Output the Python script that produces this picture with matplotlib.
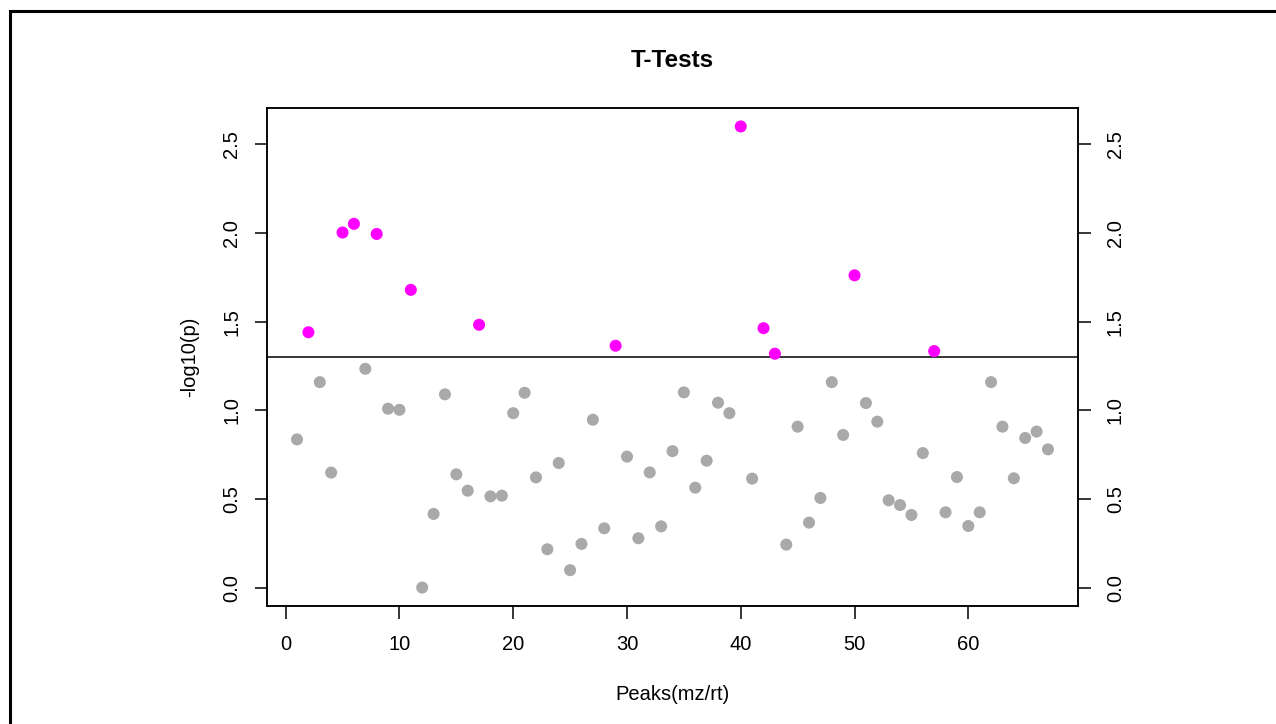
import matplotlib.pyplot as plt
from matplotlib.patches import Rectangle
import numpy as np

plt.rcParams["font.family"] = ["Liberation Sans", "DejaVu Sans"]

# -log10(p) for each peak, in peak order
peak_index = list(range(1, 68))
neg_log_p = [
    0.837, 1.441, 1.160, 0.650, 2.003, 2.052, 1.235, 1.995, 1.010, 1.004,
    1.680, 0.002, 0.417, 1.091, 0.640, 0.548, 1.483, 0.516, 0.520, 0.985,
    1.100, 0.623, 0.218, 0.704, 0.100, 0.248, 0.948, 0.336, 1.365, 0.740,
    0.280, 0.651, 0.347, 0.771, 1.102, 0.565, 0.717, 1.044, 0.985, 2.601,
    0.616, 1.464, 1.320, 0.244, 0.909, 0.368, 0.507, 1.160, 0.862, 1.762,
    1.042, 0.937, 0.494, 0.467, 0.411, 0.760, 1.335, 0.426, 0.625, 0.349,
    0.426, 1.160, 0.909, 0.618, 0.845, 0.881, 0.781,
]
p_cutoff = 0.05

x = np.array(peak_index)
y = np.array(neg_log_p)
threshold = -np.log10(p_cutoff)
colors = np.where(y > threshold, "#FF00FF", "#A9A9A9")


# R-style 4% padding around the data range
def padded(lo, hi, frac=0.04):
    d = (hi - lo) * frac
    return lo - d, hi + d


fig = plt.figure(figsize=(12.76, 7.24), dpi=100)
ax = fig.add_axes([267 / 1276, 1 - 606 / 724, 811 / 1276, 498 / 724])

ax.scatter(x, y, s=75, c=colors, edgecolors="none", zorder=3)
ax.axhline(threshold, color="black", linewidth=1.1, zorder=2)

ax.set_xlim(*padded(x.min(), x.max()))
ax.set_ylim(*padded(y.min(), y.max()))

yticks = np.arange(0, 2.51, 0.5)
ax.set_xticks(np.arange(0, 61, 10))
ax.set_yticks(yticks)
ax.set_yticklabels([f"{v:.1f}" for v in yticks], rotation=90, va="center")
ax.tick_params(axis="x", direction="out", length=9, width=1.1, labelsize=14.5, pad=12)
ax.tick_params(axis="y", direction="out", length=9, width=1.1, labelsize=14.5, pad=9.5)

# right-hand copy of the y axis
ax_r = ax.twinx()
ax_r.set_ylim(ax.get_ylim())
ax_r.set_yticks(yticks)
ax_r.set_yticklabels([f"{v:.1f}" for v in yticks], rotation=90, va="center")
ax_r.tick_params(axis="y", direction="out", length=9, width=1.1, labelsize=14.5, pad=11)

for a in (ax, ax_r):
    for sp in a.spines.values():
        sp.set_linewidth(1.1)

ax.set_title("T-Tests", fontsize=17.5, fontweight="bold", pad=29.5)
ax.set_xlabel("Peaks(mz/rt)", fontsize=14.5, labelpad=22)
ax.set_ylabel("-log10(p)", fontsize=14.5, labelpad=17)

# outer device frame
fig.add_artist(Rectangle((10 / 1276, -0.1), 1.2, 1 - 11 / 724 + 0.1,
                         transform=fig.transFigure, fill=False,
                         edgecolor="black", linewidth=2.2))

fig.savefig("out.png", dpi=100)
